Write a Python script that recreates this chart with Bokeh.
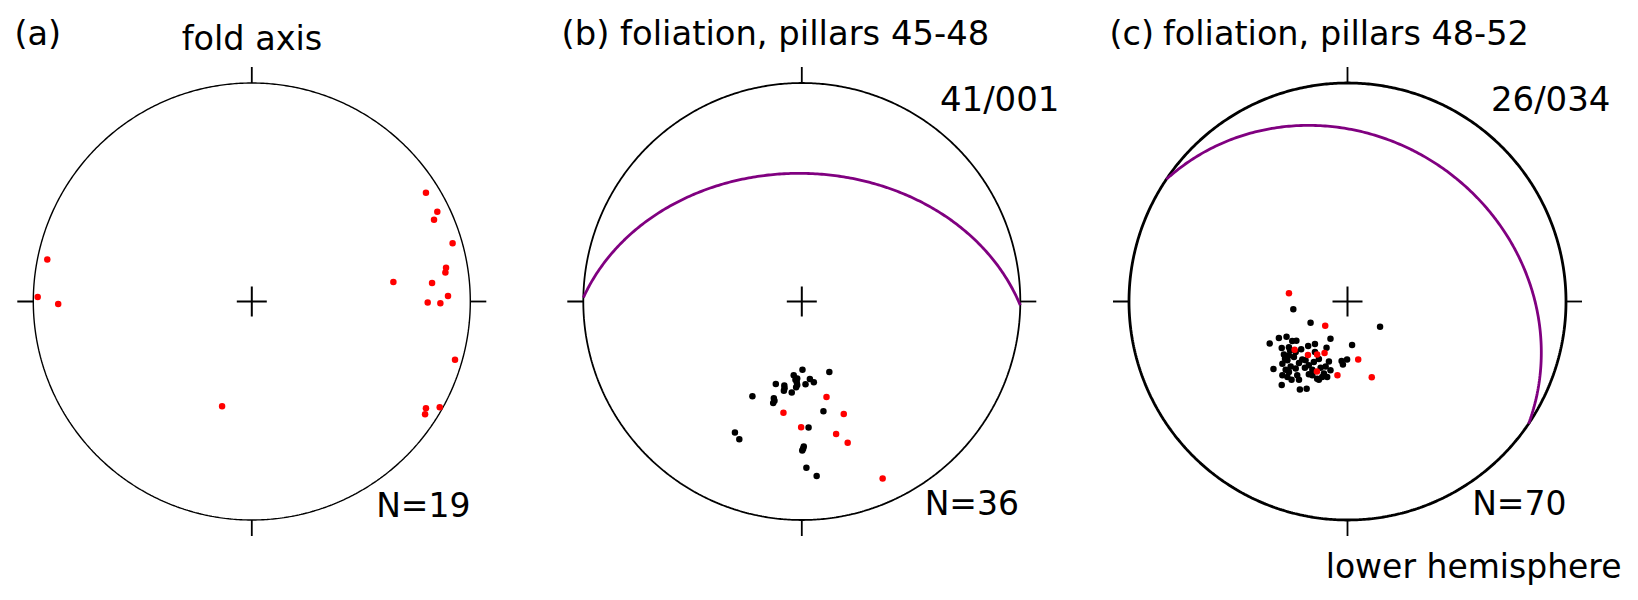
import numpy as np
from bokeh.plotting import figure
from bokeh.layouts import row
from bokeh.core.properties import value
from bokeh.embed import file_html
from bokeh.resources import INLINE

# ---------------- data (equal-area net coordinates, x = east, y = north, primitive radius = 1)
# (a) fold axes
fold_x = [0.797, 0.849, 0.834, 0.919, 0.889, 0.886, 0.648, 0.825, 0.898, 0.805,
          0.863, 0.930, 0.860, 0.797, 0.793, -0.136, -0.936, -0.980, -0.886]
fold_y = [0.498, 0.411, 0.374, 0.267, 0.154, 0.133, 0.089, 0.085, 0.025, -0.005,
          -0.008, -0.267, -0.484, -0.489, -0.516, -0.479, 0.192, 0.021, -0.011]

# (b) foliation poles, pillars 45-48
b_black_x = [0.003, 0.126, -0.037, -0.021, 0.037, 0.055, -0.119, -0.023, 0.017, -0.080,
             -0.026, -0.082, -0.046, -0.226, -0.128, -0.131, 0.099, 0.031, -0.306, -0.286,
             0.009, 0.002, 0.021, 0.068, -0.029, -0.021, -0.125, -0.079, 0.006]
b_black_y = [-0.312, -0.323, -0.337, -0.352, -0.355, -0.369, -0.378, -0.370, -0.379, -0.385,
             -0.393, -0.408, -0.417, -0.434, -0.443, -0.464, -0.502, -0.577, -0.600, -0.630,
             -0.664, -0.682, -0.761, -0.799, -0.358, -0.382, -0.454, -0.397, -0.674]
b_red_x = [0.113, -0.084, 0.192, -0.003, 0.157, 0.210, 0.370]
b_red_y = [-0.437, -0.509, -0.515, -0.575, -0.606, -0.646, -0.810]

# (c) foliation poles, pillars 48-52
c_black_x = [-0.248, -0.169, 0.149, -0.356, -0.314, -0.279, -0.253, -0.234, -0.301, -0.263,
             -0.180, -0.149, -0.078, -0.096, 0.021, -0.291, -0.268, -0.212, -0.207, -0.149,
             -0.131, -0.085, -0.027, -0.002, -0.021, -0.339, -0.298, -0.275, -0.260, -0.237,
             -0.222, -0.192, -0.177, -0.161, -0.123, -0.078, -0.108, -0.298, -0.256, -0.222,
             -0.161, -0.139, -0.116, -0.093, -0.301, -0.218, -0.187, -0.283, -0.275, -0.230,
             -0.154, -0.268, -0.245, -0.195, -0.100, -0.131, -0.286, -0.237, -0.177, -0.268]
c_black_y = [-0.035, -0.097, -0.116, -0.192, -0.167, -0.161, -0.181, -0.180, -0.213, -0.224,
             -0.204, -0.195, -0.170, -0.212, -0.199, -0.242, -0.247, -0.219, -0.266, -0.231,
             -0.263, -0.275, -0.272, -0.265, -0.288, -0.309, -0.285, -0.269, -0.297, -0.307,
             -0.282, -0.269, -0.292, -0.312, -0.303, -0.315, -0.330, -0.338, -0.358, -0.358,
             -0.338, -0.353, -0.346, -0.346, -0.382, -0.403, -0.399, -0.312, -0.346, -0.338,
             -0.277, -0.209, -0.254, -0.303, -0.297, -0.358, -0.262, -0.231, -0.333, -0.323]
c_red_x = [-0.268, -0.102, -0.242, -0.181, -0.139, -0.105, 0.049, -0.140, -0.046, 0.111]
c_red_y = [0.038, -0.111, -0.221, -0.245, -0.242, -0.236, -0.265, -0.320, -0.338, -0.347]

# mean planes: dip / dip direction
plane_b = (41, 1)
plane_c = (26, 34)

titles_left = ["(a)", "(b) foliation, pillars 45-48", "(c)"]
title_extra = ["fold axis", None, "foliation, pillars 48-52"]
plane_labels = [None, "41/001", "26/034"]
n_labels = ["N=19", "N=36", "N=70"]
hemisphere_label = "lower hemisphere"

# ---------------- layout (page pixels; Bokeh's page has no body margin)
PX = 218.5           # pixels per net unit
FIG_H = 600
CY = 301.0           # page y of net centres
PANELS = [(0, 526, 251.3), (526, 550, 801.3), (1076, 562, 1347.0)]
FONT = value("DejaVu Sans")
TEXT_DY = -10.0      # correction of the rendered baseline


def great_circle(dip, ddir, n=241):
    strike = np.radians(ddir - 90.0)
    d = np.radians(dip)
    dd = np.radians(ddir)
    s = np.array([np.sin(strike), np.cos(strike), 0.0])
    dv = np.array([np.sin(dd) * np.cos(d), np.cos(dd) * np.cos(d), -np.sin(d)])
    phi = np.linspace(0, np.pi, n)
    v = np.outer(np.cos(phi), s) + np.outer(np.sin(phi), dv)
    plunge = np.arcsin(np.clip(-v[:, 2], -1, 1))
    trend = np.arctan2(v[:, 0], v[:, 1])
    r = np.sqrt(2) * np.sin((np.pi / 2 - plunge) / 2)
    return r * np.sin(trend), r * np.cos(trend)


def make_fig(left, width, cx, lw):
    x0 = -(cx - left) / PX
    x1 = x0 + width / PX
    top = CY / PX
    y0 = top - FIG_H / PX
    p = figure(width=width, height=FIG_H, x_range=(x0, x1), y_range=(y0, top),
               output_backend="svg", toolbar_location=None, min_border=0,
               x_axis_location=None, y_axis_location=None)
    p.grid.visible = False
    p.outline_line_color = None
    p.background_fill_color = "white"
    p.border_fill_color = "white"
    # primitive circle
    t = np.linspace(0, 2 * np.pi, 721)
    p.line(np.cos(t), np.sin(t), line_color="black", line_width=lw)
    # N E S W ticks
    tl = 16.0 / PX
    p.segment(x0=[0, 1, 0, -1], y0=[1, 0, -1, 0],
              x1=[0, 1 + tl, 0, -1 - tl], y1=[1 + tl, 0, -1 - tl, 0],
              line_color="black", line_width=1.8)
    # centre cross
    c = 15.0 / PX
    p.segment(x0=[-c, 0], y0=[0, -c], x1=[c, 0], y1=[0, c], line_color="black", line_width=2)
    return p


def txt(p, cx, X, Y, s, align="left", fs="33.5px"):
    p.text(x=[(X - cx) / PX], y=[(CY - (Y + TEXT_DY)) / PX], text=[s], text_font=FONT,
           text_font_size=fs, text_color="black", text_align=align,
           text_baseline="alphabetic")


figs = []
lws = [1.4, 1.8, 2.8]
for i, (left, width, cx) in enumerate(PANELS):
    figs.append(make_fig(left, width, cx, lws[i]))

pa, pb, pc = figs

# (a)
pa.scatter(fold_x, fold_y, size=6.5, fill_color="#ff0000", line_color=None)
txt(pa, PANELS[0][2], 14, 43, titles_left[0])
txt(pa, PANELS[0][2], 251.5, 48, title_extra[0], "center")
txt(pa, PANELS[0][2], 470, 515, n_labels[0], "right", "33px")

# (b)
gx, gy = great_circle(*plane_b)
pb.line(gx, gy, line_color="#800080", line_width=2.8)
pb.scatter(b_black_x, b_black_y, size=6.5, fill_color="black", line_color=None)
pb.scatter(b_red_x, b_red_y, size=6.5, fill_color="#ff0000", line_color=None)
txt(pb, PANELS[1][2], 561, 42.7, titles_left[1], fs="33.8px")
txt(pb, PANELS[1][2], 1059, 108.3, plane_labels[1], "right", "34px")
txt(pb, PANELS[1][2], 1018.5, 512.5, n_labels[1], "right", "33px")

# (c)
gx, gy = great_circle(*plane_c)
pc.line(gx, gy, line_color="#800080", line_width=2.8)
pc.scatter(c_black_x, c_black_y, size=6.5, fill_color="black", line_color=None)
pc.scatter(c_red_x, c_red_y, size=6.5, fill_color="#ff0000", line_color=None)
txt(pc, PANELS[2][2], 1109, 42.7, titles_left[2])
txt(pc, PANELS[2][2], 1162.5, 42.7, title_extra[2])
txt(pc, PANELS[2][2], 1610, 108.3, plane_labels[2], "right", "34px")
txt(pc, PANELS[2][2], 1566, 513.3, n_labels[2], "right", "33px")
txt(pc, PANELS[2][2], 1621, 576, hemisphere_label, "right", "33px")

layout = row(pa, pb, pc, spacing=0)
open("out.html", "w").write(file_html(layout, INLINE))
